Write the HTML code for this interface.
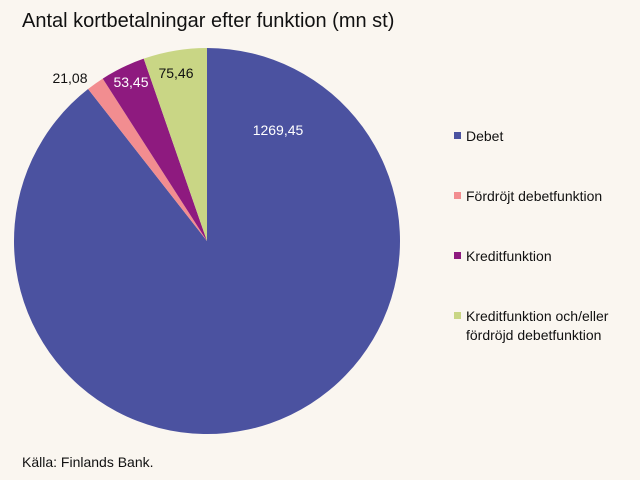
<!DOCTYPE html>
<html><head><meta charset="utf-8"><style>
body{margin:0;background:#faf6f0;font-family:"Liberation Sans",sans-serif;}
svg{display:block}
</style></head><body>
<svg id="c" width="640" height="480">
<rect width="640" height="480" fill="#faf6f0"/>
<text x="22" y="27" font-size="20" fill="#111">Antal kortbetalningar efter funktion (mn st)</text>
<text x="22" y="467" font-size="14" fill="#111">Källa: Finlands Bank.</text>
<g id="slices"></g>
<g id="labels"></g>
<g id="legend"></g>
</svg>
<script>
const categories=["Debet","Fördröjt debetfunktion","Kreditfunktion","Kreditfunktion och/eller fördröjd debetfunktion"];
const values=[1269.45,21.08,53.45,75.46];
const valueLabels=["1269,45","21,08","53,45","75,46"];
const colors=["#4b52a0","#f28d90","#8e1a7f","#c9d685"];
const labelColors=["#fff","#111","#fff","#111"];
const labelPos=[[278,135],[70,83],[131,87],[176,78]];
const ns="http://www.w3.org/2000/svg";
const cx=207,cy=241,r=193;
const total=values.reduce((a,b)=>a+b,0);
const sl=document.getElementById('slices'),lb=document.getElementById('labels'),lg=document.getElementById('legend');
let a0=0;
function pt(a){return [cx+r*Math.sin(a),cy-r*Math.cos(a)];}
values.forEach((v,i)=>{
  const a1=a0+v/total*2*Math.PI;
  const p0=pt(a0),p1=pt(a1);
  const large=(a1-a0)>Math.PI?1:0;
  const p=document.createElementNS(ns,'path');
  p.setAttribute('d',`M${cx},${cy}L${p0[0]},${p0[1]}A${r},${r} 0 ${large} 1 ${p1[0]},${p1[1]}Z`);
  p.setAttribute('fill',colors[i]);
  
  
  sl.appendChild(p);
  a0=a1;
  const t=document.createElementNS(ns,'text');
  t.setAttribute('x',labelPos[i][0]);t.setAttribute('y',labelPos[i][1]);
  t.setAttribute('font-size','14');t.setAttribute('text-anchor','middle');
  t.setAttribute('fill',labelColors[i]);
  t.textContent=valueLabels[i];
  
  
  lb.appendChild(t);
});
const ly=[141,201,261,321];
categories.forEach((c,i)=>{
  const g=document.createElementNS(ns,'g');
  
  
  const s=document.createElementNS(ns,'rect');
  s.setAttribute('x',454);s.setAttribute('y',ly[i]-9);s.setAttribute('width',7);s.setAttribute('height',7);
  s.setAttribute('fill',colors[i]);
  g.appendChild(s);
  const words=i===3?["Kreditfunktion och/eller","fördröjd debetfunktion"]:[c];
  words.forEach((w,j)=>{
    const t=document.createElementNS(ns,'text');
    t.setAttribute('x',466);t.setAttribute('y',ly[i]+j*19);
    t.setAttribute('font-size','14');t.setAttribute('fill','#111');
    t.textContent=w;
    g.appendChild(t);
  });
  lg.appendChild(g);
});
</script>
</body></html>
